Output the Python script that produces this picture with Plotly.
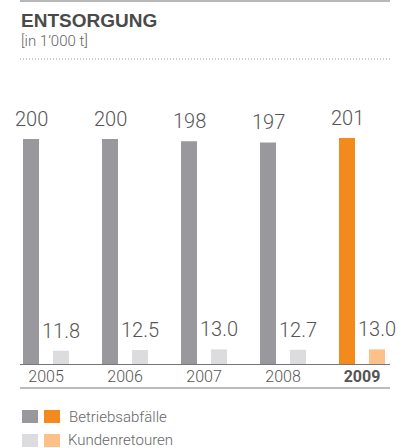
import plotly.graph_objects as go

years = ["2005", "2006", "2007", "2008", "2009"]
betrieb = [200, 200, 198, 197, 201]
kunden = [11.8, 12.5, 13.0, 12.7, 13.0]
betrieb_labels = ["200", "200", "198", "197", "201"]
kunden_labels = ["11.8", "12.5", "13.0", "12.7", "13.0"]
tick_text = ["2005", "2006", "2007", "2008", "<b>2009</b>"]

GRAY = "#99999d"
ORANGE = "#f28a1e"
LGRAY = "#dcdcde"
LORANGE = "#fcc189"
TXT = "#555555"
FONT = "Roboto"
LIGHT = 300

W, H = 406, 448
L, R, T, B = 20, 16, 100, 84
PW, PH = W - L - R, H - T - B
GROUP = 79.0


def px(x):
    return (x - L) / PW


def py(y):
    return (H - B - y) / PH


fig = go.Figure()
fig.add_bar(
    x=years, y=betrieb,
    marker=dict(color=[GRAY] * 4 + [ORANGE], line=dict(width=0)),
    width=16 / GROUP, offset=-23 / GROUP,
    showlegend=False, hoverinfo="x+y",
)
fig.add_bar(
    x=years, y=kunden,
    marker=dict(color=[LGRAY] * 4 + [LORANGE], line=dict(width=0)),
    width=16 / GROUP, offset=7 / GROUP,
    showlegend=False, hoverinfo="x+y",
)

annotations = []
for i, (v, t) in enumerate(zip(betrieb, betrieb_labels)):
    annotations.append(dict(x=i, y=v, text=t, xref="x", yref="y", showarrow=False,
                            xanchor="center", yanchor="bottom", xshift=-15, yshift=6,
                            font=dict(size=20, color=TXT, family=FONT, weight=LIGHT)))
for i, (v, t) in enumerate(zip(kunden, kunden_labels)):
    annotations.append(dict(x=i, y=v, text=t, xref="x", yref="y", showarrow=False,
                            xanchor="center", yanchor="bottom", xshift=15, yshift=6,
                            font=dict(size=20, color=TXT, family=FONT, weight=LIGHT)))

shapes = [
    dict(type="line", xref="paper", yref="paper", x0=0, x1=1, y0=py(1), y1=py(1),
         line=dict(color="#a0a0a0", width=1.5)),
    dict(type="line", xref="paper", yref="paper", x0=0, x1=1, y0=py(59), y1=py(59),
         line=dict(color="#999999", width=1, dash="1px,2px")),
    dict(type="line", xref="paper", yref="paper", x0=0, x1=1, y0=py(388), y1=py(388),
         line=dict(color="#777777", width=1)),
]
for (x0, y0, c) in [(22, 410, GRAY), (44, 410, ORANGE), (22, 434, LGRAY), (44, 434, LORANGE)]:
    shapes.append(dict(type="rect", xref="paper", yref="paper",
                       x0=px(x0), x1=px(x0 + 16), y0=py(y0 + 13), y1=py(y0),
                       fillcolor=c, line=dict(width=0)))

annotations += [
    dict(text="<b>ENTSORGUNG</b>", x=px(19), y=py(20), xref="paper", yref="paper",
         xanchor="left", yanchor="middle", showarrow=False,
         font=dict(size=19, color="#4a4a4a", family="Liberation Sans")),
    dict(text="[in 1’000 t]", x=px(19), y=py(41), xref="paper", yref="paper",
         xanchor="left", yanchor="middle", showarrow=False,
         font=dict(size=15, color="#666666", family=FONT, weight=LIGHT)),
    dict(text="Betriebsabfälle", x=px(67), y=py(417), xref="paper", yref="paper",
         xanchor="left", yanchor="middle", showarrow=False,
         font=dict(size=15, color="#666666", family=FONT, weight=LIGHT)),
    dict(text="Kundenretouren", x=px(67), y=py(440), xref="paper", yref="paper",
         xanchor="left", yanchor="middle", showarrow=False, borderpad=0,
         font=dict(size=15, color="#666666", family=FONT, weight=LIGHT)),
]

fig.update_layout(
    width=W, height=H,
    margin=dict(l=L, r=R, t=T, b=B, pad=0),
    paper_bgcolor="white", plot_bgcolor="white",
    barmode="overlay",
    shapes=shapes, annotations=annotations,
    font=dict(family=FONT, color=TXT),
    xaxis=dict(
        type="category", range=[-26 / GROUP, 4 + 28 / GROUP],
        tickvals=years, ticktext=tick_text,
        showline=True, linecolor="#777777", linewidth=1,
        showgrid=False, zeroline=False, ticks="",
        ticklabelstandoff=-2,
        tickfont=dict(size=16, color=TXT, family=FONT, weight=LIGHT),
        fixedrange=True,
    ),
    yaxis=dict(range=[0, PH / 1.125], visible=False, fixedrange=True),
)

fig.write_html("out.html")
